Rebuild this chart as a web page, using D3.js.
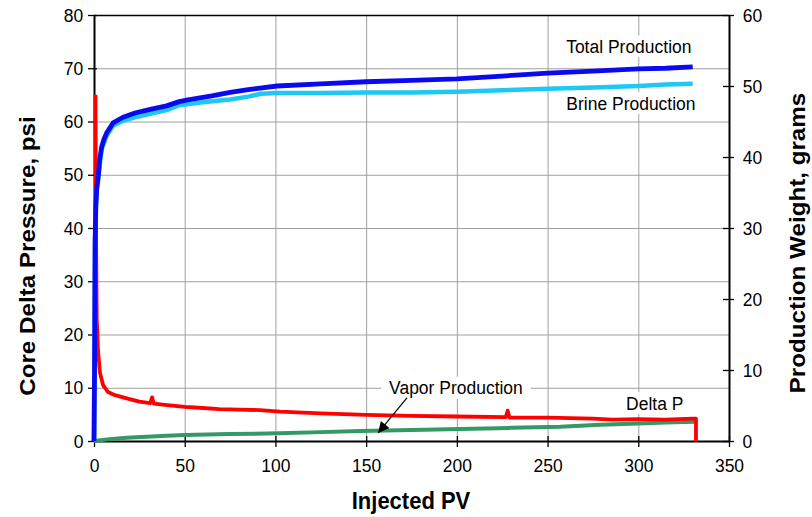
<!DOCTYPE html>
<html>
<head>
<meta charset="utf-8">
<script src="https://cdn.jsdelivr.net/npm/d3@7"></script>
<style>
  html, body { margin: 0; padding: 0; background: #fff; }
  svg { display: block; font-family: "Liberation Sans", Arial, sans-serif; }
  .stretch { transform-box: fill-box; transform-origin: center; transform: scaleX(0.92); }
</style>
</head>
<body>
<svg id="chart" width="812" height="517"></svg>
<script>
// ---------- data ----------
const xTicks = [0, 50, 100, 150, 200, 250, 300, 350];
const leftTicks = [0, 10, 20, 30, 40, 50, 60, 70, 80];
const rightTicks = [0, 10, 20, 30, 40, 50, 60];

// [Injected PV, grams]
const totalProduction = [
  [0, 0], [0.3, 10], [0.6, 28], [1.0, 33], [1.5, 35.5], [2.4, 37.4], [3.0, 39.4], [4.2, 41.4],
  [5.5, 42.5], [7.0, 43.4], [10.5, 44.8], [16, 45.6], [22.6, 46.2], [31, 46.7], [40, 47.2],
  [47, 47.8], [51, 48.0], [65, 48.6], [75, 49.1], [85, 49.5], [101, 50.0], [125, 50.3],
  [150, 50.6], [175, 50.8], [200, 51.0], [225, 51.4], [250, 51.8], [275, 52.1], [300, 52.4],
  [315, 52.5], [330, 52.7]
];
const brineProduction = [
  [0, 0], [0.3, 10], [0.6, 28], [1.0, 33], [1.5, 35.3], [2.4, 37.2], [4.2, 41.1], [7.0, 43.0],
  [10.5, 44.4], [16, 45.1], [22.6, 45.6], [31, 46.1], [40, 46.6], [47, 47.3], [60, 47.7],
  [75, 48.1], [85, 48.5], [92, 48.9], [101, 49.0], [125, 49.0], [150, 49.1], [175, 49.1],
  [200, 49.2], [225, 49.4], [250, 49.6], [275, 49.8], [300, 50.0], [315, 50.2], [330, 50.3]
];
const vaporProduction = [
  [0, 0], [10, 0.3], [18, 0.46], [29, 0.6], [40, 0.75], [50, 0.85], [75, 0.98], [102, 1.08],
  [125, 1.25], [147, 1.4], [175, 1.55], [202, 1.7], [230, 1.85], [257, 2.0], [279, 2.3],
  [300, 2.45], [315, 2.6], [331, 2.7]
];
// [Injected PV, psi]
const deltaP = [
  [0.8, 65], [1.0, 50], [1.2, 35], [1.5, 22.5], [1.8, 21], [2.2, 17], [3.3, 12.8], [5, 10.5],
  [7.7, 9.2], [11.6, 8.6], [17, 8.1], [25, 7.4], [31, 7.1], [32, 8.2], [33, 7.0], [39, 6.8],
  [50, 6.4], [60, 6.2], [69, 6.0], [80, 5.9], [91.5, 5.8], [102.5, 5.5], [125, 5.2], [150, 4.9],
  [175, 4.7], [200, 4.6], [227, 4.5], [228, 5.7], [229, 4.4], [250, 4.4], [275, 4.2], [286, 4.0],
  [300, 4.1], [315, 4.0], [330, 4.2], [331.8, 4.2], [331.8, 0]
];

// annotation anchors in data units
const labelTotal = { text: "Total Production", pv: 260, g: 55.6 };
const labelBrine = { text: "Brine Production", pv: 260, g: 47.6 };
const labelVapor = { text: "Vapor Production", pv: 199.5, psi: 10 };
const labelDelta = { text: "Delta P", pv: 293, psi: 7.1 };
const vaporArrow = { fromPV: 172.5, fromPsi: 8.1, toPV: 156.6, toG: 1.13 };

// ---------- layout ----------
const svg = d3.select("#chart");
const L = 94, R = 729, T = 15, B = 441;
const x = d3.scaleLinear().domain([0, 350]).range([L, R]);
const yL = d3.scaleLinear().domain([0, 80]).range([B, T]);
const yR = d3.scaleLinear().domain([0, 60]).range([B, T]);

const FS = 19;

// gridlines
const grid = svg.append("g").attr("stroke", "#a0a0a0").attr("stroke-width", 1);
grid.selectAll("line.v").data(xTicks.filter(d => d > 0 && d < 350)).join("line")
  .attr("x1", d => x(d) + 0.5).attr("x2", d => x(d) + 0.5).attr("y1", T).attr("y2", B);
grid.selectAll("line.h").data(leftTicks.filter(d => d > 0 && d < 80)).join("line")
  .attr("y1", d => yL(d) + 0.5).attr("y2", d => yL(d) + 0.5).attr("x1", L).attr("x2", R);

// top border
svg.append("line").attr("x1", L).attr("x2", R).attr("y1", T + 0.5).attr("y2", T + 0.5)
  .attr("stroke", "#000").attr("stroke-width", 1.5);

function styleAxis(g) {
  g.selectAll("text").attr("font-size", FS).attr("fill", "#000").attr("class", "stretch")
    .attr("font-family", "'Liberation Sans', Arial, sans-serif");
  g.selectAll("line").attr("stroke", "#000").attr("stroke-width", 1.3);
  g.select(".domain").attr("stroke", "#000").attr("stroke-width", 2);
}

const ax = svg.append("g").attr("transform", `translate(0,${B})`)
  .call(d3.axisBottom(x).tickValues(xTicks).tickSizeInner(6).tickSizeOuter(0).tickPadding(12));
ax.selectAll(".tick line").attr("y1", -5);
styleAxis(ax);

const al = svg.append("g").attr("transform", `translate(${L},0)`)
  .call(d3.axisLeft(yL).tickValues(leftTicks).tickSizeInner(6).tickSizeOuter(0).tickPadding(4));
al.selectAll(".tick line").attr("x1", 3);
styleAxis(al);

const ar = svg.append("g").attr("transform", `translate(${R},0)`)
  .call(d3.axisRight(yR).tickValues(rightTicks).tickSizeInner(5).tickSizeOuter(0).tickPadding(8));
ar.selectAll(".tick line").attr("x1", -6);
styleAxis(ar);

// series
const lineR = d3.line().x(d => x(d[0])).y(d => yR(d[1]));
const lineL = d3.line().x(d => x(d[0])).y(d => yL(d[1]));

svg.append("path").datum(vaporProduction).attr("d", lineR)
  .attr("fill", "none").attr("stroke", "#339966").attr("stroke-width", 4).attr("stroke-linejoin", "round");
svg.append("path").datum(deltaP).attr("d", lineL)
  .attr("fill", "none").attr("stroke", "#ff0000").attr("stroke-width", 3.8).attr("stroke-linejoin", "round");
svg.append("path").datum(brineProduction).attr("d", lineR)
  .attr("fill", "none").attr("stroke", "#1ec8f5").attr("stroke-width", 4.5).attr("stroke-linejoin", "round");
svg.append("path").datum(totalProduction).attr("d", lineR)
  .attr("fill", "none").attr("stroke", "#0a0af0").attr("stroke-width", 4.8).attr("stroke-linejoin", "round");

// annotations
function label(txt, px, py, anchor) {
  const t = svg.append("text").attr("x", px).attr("y", py).attr("dy", "0.35em")
    .attr("class", "stretch")
    .attr("text-anchor", anchor).attr("font-size", FS).attr("fill", "#000").text(txt);
  const bb = t.node().getBBox();
  svg.insert("rect", function () { return t.node(); })
    .attr("x", bb.x - 2).attr("y", bb.y).attr("width", bb.width + 4).attr("height", bb.height)
    .attr("fill", "#fff");
  return t;
}
label(labelTotal.text, x(labelTotal.pv) - 5, yR(labelTotal.g), "start");
label(labelBrine.text, x(labelBrine.pv) - 5, yR(labelBrine.g), "start");
label(labelVapor.text, x(labelVapor.pv), yL(labelVapor.psi), "middle");
label(labelDelta.text, x(labelDelta.pv) - 2, yL(labelDelta.psi), "start");

// arrow
svg.append("defs").append("marker").attr("id", "ah")
  .attr("viewBox", "0 0 10 10").attr("refX", 10).attr("refY", 5)
  .attr("markerWidth", 17).attr("markerHeight", 11).attr("markerUnits", "userSpaceOnUse")
  .attr("orient", "auto")
  .append("path").attr("d", "M0,0 L10,5 L0,10 Z").attr("fill", "#000");
svg.append("line")
  .attr("x1", x(vaporArrow.fromPV)).attr("y1", yL(vaporArrow.fromPsi))
  .attr("x2", x(vaporArrow.toPV)).attr("y2", yR(vaporArrow.toG))
  .attr("stroke", "#000").attr("stroke-width", 1.2).attr("marker-end", "url(#ah)");

// axis titles
svg.append("text").attr("transform", "translate(411,509) scale(1,1.08)").attr("text-anchor", "middle")
  .attr("font-size", 22).attr("font-weight", "bold").text("Injected PV");
svg.append("text").attr("transform", "translate(35,256) rotate(-90) scale(1.1,1)").attr("text-anchor", "middle")
  .attr("font-size", 22).attr("font-weight", "bold").text("Core Delta Pressure, psi");
svg.append("text").attr("transform", "translate(805,243) rotate(-90) scale(1.1,1)").attr("text-anchor", "middle")
  .attr("font-size", 22).attr("font-weight", "bold").text("Production Weight, grams");
</script>
</body>
</html>
